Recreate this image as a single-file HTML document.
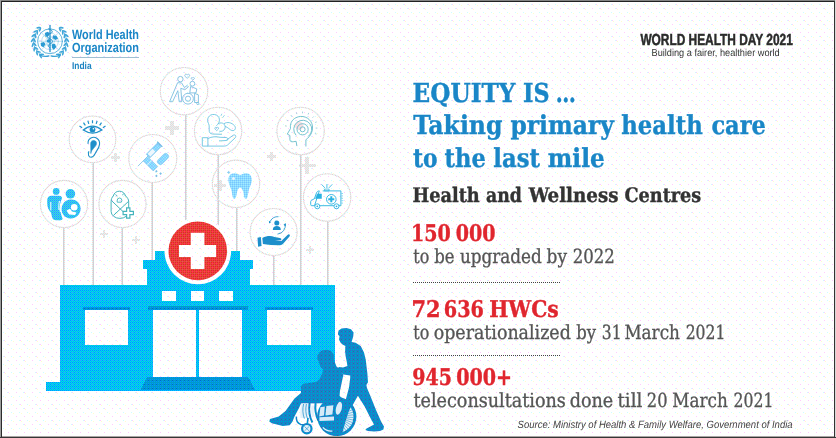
<!DOCTYPE html>
<html lang="en">
<head>
<meta charset="utf-8">
<title>World Health Day 2021 - Equity is taking primary health care to the last mile</title>
<style>
html,body{margin:0;padding:0;background:#fff;}
body{width:836px;height:438px;overflow:hidden;}
svg{display:block;}
.slab{font-family:"DejaVu Serif Condensed","DejaVu Serif","Liberation Serif",serif;}
.sans{font-family:"Liberation Sans","DejaVu Sans",sans-serif;}
text{text-rendering:geometricPrecision;}
.b{font-weight:bold;}
.i{font-style:italic;}
</style>
</head>
<body>
<svg width="836" height="438" viewBox="0 0 836 438">
<defs>
<pattern id="dither" x="8" y="4" width="16" height="16" patternUnits="userSpaceOnUse" shape-rendering="crispEdges">
<rect width="16" height="16" fill="#ffffff"/>
<rect x="3" y="0" width="1" height="1" fill="#ccffff"/><rect x="11" y="0" width="1" height="1" fill="#ccffff"/><rect x="12" y="0" width="1" height="1" fill="#ffccff"/>
<rect x="5" y="1" width="1" height="1" fill="#ffffcc"/><rect x="13" y="1" width="1" height="1" fill="#ffffcc"/>
<rect x="0" y="4" width="1" height="1" fill="#ffccff"/><rect x="8" y="4" width="1" height="1" fill="#ffccff"/><rect x="15" y="4" width="1" height="1" fill="#ccffff"/>
<rect x="1" y="5" width="1" height="1" fill="#ffffcc"/>
<rect x="3" y="8" width="1" height="1" fill="#ccffff"/><rect x="11" y="8" width="1" height="1" fill="#ccffff"/>
<rect x="5" y="9" width="1" height="1" fill="#ffffcc"/><rect x="13" y="9" width="1" height="1" fill="#ffffcc"/>
<rect x="0" y="12" width="1" height="1" fill="#ffccff"/><rect x="8" y="12" width="1" height="1" fill="#ffccff"/>
</pattern>

<pattern id="pL" x="0" y="0" width="2" height="2" patternUnits="userSpaceOnUse" shape-rendering="crispEdges">
<rect width="2" height="2" fill="#ccffff"/><rect x="0" y="0" width="1" height="1" fill="#ffcccc"/><rect x="1" y="1" width="1" height="1" fill="#ffcccc"/>
</pattern>
<pattern id="pT" x="0" y="0" width="2" height="2" patternUnits="userSpaceOnUse" shape-rendering="crispEdges">
<rect width="2" height="2" fill="#99ccff"/><rect x="0" y="0" width="1" height="1" fill="#66ccff"/><rect x="1" y="1" width="1" height="1" fill="#99ffff"/>
</pattern>
<pattern id="pF" x="0" y="0" width="2" height="2" patternUnits="userSpaceOnUse" shape-rendering="crispEdges">
<rect width="2" height="2" fill="#33ccff"/><rect x="0" y="0" width="1" height="1" fill="#3399ff"/><rect x="1" y="1" width="1" height="1" fill="#33cccc"/>
</pattern>
<pattern id="pB" x="0" y="0" width="4" height="4" patternUnits="userSpaceOnUse" shape-rendering="crispEdges">
<rect width="4" height="4" fill="#00ccff"/><rect x="0" y="0" width="1" height="1" fill="#3399ff"/><rect x="2" y="0" width="1" height="1" fill="#0099ff"/><rect x="0" y="2" width="1" height="1" fill="#0099ff"/><rect x="2" y="2" width="1" height="1" fill="#0099ff"/><rect x="1" y="1" width="1" height="1" fill="#00cccc"/><rect x="3" y="1" width="1" height="1" fill="#00cccc"/><rect x="1" y="3" width="1" height="1" fill="#00cccc"/><rect x="3" y="3" width="1" height="1" fill="#00cccc"/>
</pattern>
<pattern id="pS" x="0" y="0" width="4" height="4" patternUnits="userSpaceOnUse" shape-rendering="crispEdges">
<rect width="4" height="4" fill="#0099cc"/><rect x="0" y="0" width="1" height="1" fill="#3366cc"/><rect x="2" y="0" width="1" height="1" fill="#3366cc"/><rect x="0" y="2" width="1" height="1" fill="#3366cc"/><rect x="2" y="2" width="1" height="1" fill="#3366cc"/><rect x="1" y="3" width="1" height="1" fill="#336699"/>
</pattern>
<pattern id="pD" x="0" y="0" width="4" height="4" patternUnits="userSpaceOnUse" shape-rendering="crispEdges">
<rect width="4" height="4" fill="#0099cc"/><rect x="0" y="0" width="1" height="1" fill="#0066cc"/><rect x="0" y="1" width="1" height="1" fill="#0099ff"/><rect x="2" y="1" width="1" height="1" fill="#0099ff"/><rect x="0" y="3" width="1" height="1" fill="#0099ff"/><rect x="2" y="3" width="1" height="1" fill="#0099ff"/>
</pattern>
<pattern id="pR" x="0" y="0" width="4" height="4" patternUnits="userSpaceOnUse" shape-rendering="crispEdges">
<rect width="4" height="4" fill="#ff3333"/><rect x="1" y="0" width="1" height="1" fill="#cc3333"/><rect x="3" y="0" width="1" height="1" fill="#cc3333"/><rect x="1" y="2" width="1" height="1" fill="#cc3333"/><rect x="3" y="2" width="1" height="1" fill="#cc3333"/><rect x="0" y="1" width="1" height="1" fill="#cc6633"/><rect x="2" y="1" width="1" height="1" fill="#cc6666"/><rect x="0" y="3" width="1" height="1" fill="#ff3366"/><rect x="2" y="3" width="1" height="1" fill="#cc6633"/>
</pattern>
</defs>
<!-- background -->
<rect id="bg" x="0" y="0" width="836" height="438" fill="#ffffff"/>
<rect id="bgdots" x="0" y="0" width="836" height="438" fill="url(#dither)"/>


<!-- decorative plus marks -->
<g id="plusmarks" fill="url(#pL)" shape-rendering="crispEdges">
<path d="M170 121h4v5h5v4h-5v5h-4v-5h-5v-4h5z"/>
<path d="M114 153h3v3h3v3h-3v3h-3v-3h-3v-3h3z"/>
<path d="M270 152h3v3h3v3h-3v3h-3v-3h-3v-3h3z"/>
<path d="M305 157h4v7h7v3h-7v7h-4v-7h-6v-3h6z"/>
<path d="M218 180h4v4h4v3h-4v4h-4v-4h-4v-3h4z"/>
<path d="M103 230h2v3h3v2h-3v3h-2v-3h-3v-2h3z"/>
<path d="M135 236h2v3h3v2h-3v3h-2v-3h-3v-2h3z"/>
<path d="M309 246h2v3h3v2h-3v3h-2v-3h-3v-2h3z"/>
</g>
<!-- stems -->
<g id="stems" shape-rendering="crispEdges">
<rect x="63" y="228" width="1" height="57" fill="#d0d0d5"/><rect x="64" y="228" width="1" height="57" fill="url(#pL)"/>
<rect x="93" y="162" width="1" height="123" fill="#d0d0d5"/><rect x="92" y="162" width="1" height="123" fill="url(#pL)"/>
<rect x="122" y="228" width="1" height="57" fill="#d0d0d5"/><rect x="121" y="228" width="1" height="57" fill="url(#pL)"/>
<rect x="152" y="182" width="1" height="103" fill="#d0d0d5"/><rect x="151" y="182" width="1" height="103" fill="url(#pL)"/>
<rect x="185" y="115" width="1" height="145" fill="#d0d0d5"/><rect x="186" y="115" width="1" height="145" fill="url(#pL)"/>
<rect x="218" y="155" width="1" height="105" fill="#d0d0d5"/><rect x="217" y="155" width="1" height="105" fill="url(#pL)"/>
<rect x="236" y="207" width="1" height="53" fill="#d0d0d5"/><rect x="237" y="207" width="1" height="53" fill="url(#pL)"/>
<rect x="273" y="256" width="1" height="29" fill="#d0d0d5"/><rect x="274" y="256" width="1" height="29" fill="url(#pL)"/>
<rect x="300" y="155" width="1" height="130" fill="#d0d0d5"/><rect x="301" y="155" width="1" height="130" fill="url(#pL)"/>
<rect x="327" y="221" width="1" height="64" fill="#d0d0d5"/><rect x="328" y="221" width="1" height="64" fill="url(#pL)"/>
</g>

<!-- icon circles -->
<g id="circles" fill="none">
<circle cx="64" cy="204" r="23.6" stroke="url(#pL)" stroke-width="1.1"/><circle cx="64" cy="204" r="23.6" stroke="#c9a9b4" stroke-width="0.8" stroke-dasharray="1 2.4" opacity="0.45"/>
<circle cx="122.5" cy="204" r="23.6" stroke="url(#pL)" stroke-width="1.1"/><circle cx="122.5" cy="204" r="23.6" stroke="#c9a9b4" stroke-width="0.8" stroke-dasharray="1 2.4" opacity="0.45"/>
<circle cx="92.5" cy="139.3" r="23.3" stroke="url(#pL)" stroke-width="1.1"/><circle cx="92.5" cy="139.3" r="23.3" stroke="#c9a9b4" stroke-width="0.8" stroke-dasharray="1 2.4" opacity="0.45"/>
<circle cx="152.8" cy="158.5" r="24" stroke="url(#pL)" stroke-width="1.1"/><circle cx="152.8" cy="158.5" r="24" stroke="#c9a9b4" stroke-width="0.8" stroke-dasharray="1 2.4" opacity="0.45"/>
<circle cx="184" cy="91.2" r="23.7" stroke="url(#pL)" stroke-width="1.1"/><circle cx="184" cy="91.2" r="23.7" stroke="#c9a9b4" stroke-width="0.8" stroke-dasharray="1 2.4" opacity="0.45"/>
<circle cx="218.1" cy="131" r="23.7" stroke="url(#pL)" stroke-width="1.1"/><circle cx="218.1" cy="131" r="23.7" stroke="#c9a9b4" stroke-width="0.8" stroke-dasharray="1 2.4" opacity="0.45"/>
<circle cx="236" cy="183.8" r="23.7" stroke="url(#pL)" stroke-width="1.1"/><circle cx="236" cy="183.8" r="23.7" stroke="#c9a9b4" stroke-width="0.8" stroke-dasharray="1 2.4" opacity="0.45"/>
<circle cx="273.6" cy="232" r="23.5" stroke="url(#pL)" stroke-width="1.1"/><circle cx="273.6" cy="232" r="23.5" stroke="#c9a9b4" stroke-width="0.8" stroke-dasharray="1 2.4" opacity="0.45"/>
<circle cx="300.6" cy="131" r="23.7" stroke="url(#pL)" stroke-width="1.1"/><circle cx="300.6" cy="131" r="23.7" stroke="#c9a9b4" stroke-width="0.8" stroke-dasharray="1 2.4" opacity="0.45"/>
<circle cx="327.1" cy="197.5" r="23.7" stroke="url(#pL)" stroke-width="1.1"/><circle cx="327.1" cy="197.5" r="23.7" stroke="#c9a9b4" stroke-width="0.8" stroke-dasharray="1 2.4" opacity="0.45"/>
</g>
<!-- icons -->
<g id="icon-family" transform="translate(64 204)" fill="url(#pF)">
<circle cx="-7.8" cy="-12.6" r="3.4"/>
<path d="M-12.5 -8.2 H-5 Q-1.6 -8.2 -1.8 -4.5 L-3.5 2 Q-4.5 6 -3 10 L-1.5 14.5 Q-1.2 16.2 -3.5 16.2 H-8 Q-11 16.2 -12 13 L-13 8.5 Q-16.8 5 -16.8 -1 V-3.5 Q-16.8 -8.2 -12.5 -8.2 Z"/>
<circle cx="6.4" cy="-10.2" r="4.8"/>
<path d="M6.5 -4.6 C13 -5 16.8 0 16.6 5 C16.4 10.5 12 14.6 6.5 14.4 C1 14.2 -2.6 10 -2.4 5 C-2.2 0 1 -4.3 6.5 -4.6 Z"/>
<circle cx="10.2" cy="3.2" r="3.3" fill="#fff"/>
<path d="M2.5 6.5 L6 4.8 L8 7.5 L12.5 8.5 L11 11 L5 10.5 Z" fill="#fff"/>
<path d="M-1.2 -6 C-3 -2 -4.6 3 -3.6 8" fill="none" stroke="#fff" stroke-width="1.2"/>
<path d="M-13.2 -2 V6.5 M-4.6 -3 C-5.2 0 -5.4 3 -5 6" fill="none" stroke="#fff" stroke-width="1"/>
</g>
<g id="icon-baby" transform="translate(122.5 204)" fill="none" stroke="#45b4bd" stroke-width="1" stroke-linecap="round">
<path d="M-9.2 -8.2 A6.4 6.6 0 0 1 3 -8.2"/>
<path d="M-9.2 -8.2 C-10.8 -6.4 -11.4 -4.6 -11.4 -2.4 V7.4 A8.8 7 0 0 0 6.2 7.4 V-2.4 C6.2 -4.6 4.8 -6.6 3 -8.2"/>
<path d="M-11 -3.4 L1.6 8.6 M6 -2.6 L-8.8 11.2"/>
<path d="M-5.4 -3.4 A2.4 2.6 0 0 1 -0.6 -3.4 L-1.2 -1.8 H-4.8 Z" stroke-width="0.9"/>
<path d="M-6.8 -9.2 l1.4 1 M0 -9.2 l1.2 -1" stroke-width="0.9"/>
<path d="M4.1 3.9 h3.3 v3.4 h3.5 v3.3 h-3.5 v3.5 h-3.3 v-3.5 h-3.5 v-3.3 h3.5 z" fill="#fff" stroke-width="1.2"/>
</g>
<g id="icon-eye-ear" transform="translate(92.5 139.3)" fill="none" stroke="#1f8fc9" stroke-width="1">
<path d="M-9.2 -9.3 Q0 -17 9.4 -9.3 Q0 -3.2 -9.2 -9.3 Z" stroke-width="1.3"/>
<circle cx="0" cy="-9.7" r="2.9" fill="#1f8fc9" stroke="none"/>
<circle cx="0.9" cy="-10.6" r="0.8" fill="#fff" stroke="none"/>
<path d="M-13 -13.4 l2.6 1.8 M-9 -16.6 l1.8 2.6 M-4.6 -18.4 l0.9 3 M0 -19 v3 M4.6 -18.4 l-0.9 3 M9 -16.6 l-1.8 2.6 M13 -13.4 l-2.6 1.8" stroke-width="1.2"/>
<path d="M-4.4 4.6 C-5 -1 0.6 -3.6 4.6 -0.8 C8.8 2.2 7 7.8 4.2 11.6 C2 14.6 1.8 17.8 -1.4 18 C-4.2 18 -4.6 14.6 -3.6 12" stroke-width="1.1"/>
<path d="M-1.8 4.6 C-2 1.6 1 0.2 3 1.8 C5 3.6 3.6 6.6 1.6 8.4 C0 10 -1.8 12.4 -1.6 14.2 Z" fill="#1f8fc9" stroke-width="0.6"/>
</g>
<g id="icon-vaccine" transform="translate(152.9 158.7)">
<g transform="translate(0.8 -8.3) rotate(-45)">
<rect x="-7.8" y="-2.5" width="15.6" height="5" fill="url(#pT)" stroke="#6fb9e6" stroke-width="0.7"/>
<rect x="-6.6" y="-2" width="7" height="4" fill="#eef7fd"/>
<path d="M8.6 -3.6 v7.2 M7.8 0 h0.8" stroke="#6fb9e6" stroke-width="1.3" fill="none"/>
<path d="M-7.8 0 h-14.5" stroke="#7dbfe6" stroke-width="0.8" fill="none"/>
</g>
<g transform="translate(-2.4 5.1) rotate(45)">
<rect x="-7" y="-3.1" width="14" height="6.2" fill="url(#pT)" stroke="#6fb9e6" stroke-width="0.5"/>
<path d="M-1.5 -3.1 v6.2" stroke="#e8f4fc" stroke-width="0.9"/>
</g>
<g transform="translate(10.1 0.3) rotate(-45)">
<rect x="-6.6" y="-2.9" width="13.2" height="5.8" rx="2.7" fill="url(#pT)" stroke="#6fb9e6" stroke-width="0.5"/>
</g>
<path d="M3.5 11.2 l1.3 1.3 -1.3 1.3 -1.3 -1.3z M3.5 15.9 l1.3 1.3 -1.3 1.3 -1.3 -1.3z M7.7 13.6 l1.3 1.3 -1.3 1.3 -1.3 -1.3z" fill="#7dbfe6"/>
</g>
<g id="icon-elderly" transform="translate(184.2 91.3)" fill="none" stroke="#7dbde0" stroke-width="0.9" stroke-linejoin="round">
<circle cx="-3.8" cy="-12.2" r="2.7"/>
<path d="M-6.6 -8.6 L-14.6 10.4 L-11.6 10.4 L-6.4 -0.6 L-5 10.4 L-2.4 10.4 L-3.4 -3 L0.6 -1.6 L4.2 -4.4 L3 -5.8 L0.2 -3.8 L-2.6 -8.4 Z"/>
<circle cx="3.8" cy="7.4" r="5.4"/>
<circle cx="3.8" cy="7.4" r="2.6"/>
<circle cx="8.2" cy="-7.6" r="2.4"/>
<path d="M6.4 -4.8 L5.6 1.6 H11.8 L12.6 -2.4 Z"/>
<path d="M10.4 2 V11.2 H14.2 V3.6 Z"/>
<circle cx="13.6" cy="12.2" r="1.1"/>
<path d="M3 -16.4 c-1.2 -1.6 -3.4 0 -2 1.6 l2 1.8 2 -1.8 c1.4 -1.6 -0.8 -3.2 -2 -1.6z M8.6 -13.4 c-0.8 -1 -2.2 0 -1.4 1 l1.4 1.2 1.4 -1.2 c0.8 -1 -0.6 -2 -1.4 -1z" stroke-width="0.8"/>
</g>
<g id="icon-motherbaby" transform="translate(218.1 131.1)" fill="none" stroke="#6cc4e0" stroke-width="0.9" stroke-linejoin="round" stroke-linecap="round">
<path d="M-1.4 -5.6 C2.8 -9 2.4 -15.6 -3.6 -16.6 C-9.4 -17.4 -12 -11.4 -9.6 -7.6 C-8.4 -5.6 -9.2 -3 -8.8 0.4 C-8.6 2.4 -6.4 3.2 -3 3 L3.4 3.2"/>
<path d="M0.4 -7.6 C4.4 -9.8 8.2 -6.2 6.8 -2.6 C6 -0.4 3.4 0.8 1.6 0.2"/>
<path d="M6.2 -7.6 C9 -9.6 13.6 -8.6 16.4 -5.4 C18.4 -3 16.8 0.2 13.8 -0.6 C11.6 -1.2 10 -3.8 7.4 -4.6"/>
<path d="M-1.4 -3.4 c-1 -1.2 -2.6 0 -1.6 1.4 l1.6 1.6 1.6 -1.6 c1 -1.4 -0.6 -2.6 -1.6 -1.4z" stroke-width="0.8"/>
<path d="M4.6 -13.6 l1.6 -2 M3 -15.6 l0.6 -1.4" stroke-width="0.7"/>
<path d="M-15.4 6.6 H-10.2 V15 H-15.4 Z"/>
<path d="M-10.2 7.4 C-6 5.2 -2 5.4 2 6.2 L8 6.4 C10.4 6.6 10.4 9.2 8 9.4 L1.4 9.8 M8.6 8.8 L15 4.2 C17.2 3 18.6 5 17 6.8 L9.6 13.8 C8.4 14.8 7 15 5 15 H-10.2"/>
</g>
<g id="icon-tooth" transform="translate(236.1 183.9)">
<path d="M-7.6 -6 C-6.8 -10.6 -2 -12 2.6 -9.4 C3.6 -8.8 4.6 -8.8 5.6 -9.4 C10.2 -12 15 -10.2 15.6 -5.4 C16.2 -0.8 13.6 2.6 12.6 6.6 C11.8 10 11.8 14.8 9.8 14.8 C7.6 14.8 8 10.4 7 7.4 C6.2 5 5 3.6 4 3.6 C3 3.6 1.8 5 1.2 7.4 C0.2 10.4 0.6 14.8 -1.8 14.8 C-3.8 14.8 -3.8 10 -4.6 6.6 C-5.6 2.6 -8.2 -1 -7.6 -6 Z" fill="url(#pT)"/>
<circle cx="-2.6" cy="-5.4" r="1.5" fill="#e8f5fc"/>
<path d="M-7.4 -13 v3 M-8.9 -11.5 h3" stroke="#85caf2" stroke-width="0.9" fill="none"/>
</g>
<g id="icon-hand" transform="translate(272.9 231.7)" fill="#1d8fcb">
<circle cx="3.9" cy="-8.8" r="2.5"/>
<path d="M-0.1 -1.8 C-0.1 -4.8 1.6 -5.8 3.9 -5.8 C6.2 -5.8 7.9 -4.8 7.9 -1.8 Z"/>
<path d="M-2.6 -10.6 A8.6 8.6 0 0 1 5.6 -15" fill="none" stroke="#1d8fcb" stroke-width="0.8"/>
<path d="M12.2 -8 A8.6 8.6 0 0 1 4.6 2.4" fill="none" stroke="#1d8fcb" stroke-width="0.8"/>
<path d="M-3.8 -8.2 l-0.2 -2.8 2.4 1.4z M12.8 -5.2 l0.2 -3.2 -2.4 1.4z"/>
<path d="M-15.4 6 L-12 5.4 L-11.4 14.4 L-14.8 15 Z"/>
<path d="M-10.6 6.2 C-6 4 -2 4 1.6 5.2 L7 6.2 C9 6.6 9 8.4 7 8.6 L2 8.8 L8.4 9.4 L14.6 3.2 C16.2 1.8 17.8 3.2 16.6 4.8 L10.2 12 C9 13.2 7.6 13.6 5.6 13.6 L-2 13.4 C-5 13.2 -7.6 12.6 -10 12.4 Z"/>
</g>
<g id="icon-head" transform="translate(300.5 131.1)" fill="none" stroke="#66bccb" stroke-width="0.9" stroke-linejoin="round">
<circle cx="2.1" cy="-1.8" r="4.2" fill="#f7dfe2" stroke="none" transform="translate(-3.4 -3.6)"/>
<path d="M5.4 15.4 V8.6 C10.6 5 13.4 -1.6 11.4 -7.4 C9 -14 1.4 -16.4 -4.6 -13.4 C-9 -11.2 -10.6 -7 -10 -2.6 L-13.2 3 L-10.6 4.4 L-10.6 8.6 C-10.6 10.4 -9 11 -7 10.6 L-4.4 10.2 L-3.6 15"/>
<circle cx="2.1" cy="-1.8" r="2.5"/>
<circle cx="2.1" cy="-1.8" r="5.6"/>
<path d="M-4.4 4.2 A9 9 0 1 1 7.6 5.4" />
<path d="M-8.6 -14.6 l-1 -1.4 M-3.6 -17 l-0.5 -1.6 M2 -17.8 v-1.7 M7.6 -16.6 l0.6 -1.6 M12 -13.4 l1.2 -1.2 M14.6 -8.6 l1.6 -0.6 M15.2 -3 h1.7 M14.4 2.4 l1.6 0.6 M-12.4 -10.2 l-1.4 -0.8 M-13.8 -5 l-1.6 -0.2" stroke-width="0.8" stroke="#8ec6d4"/>
</g>
<g id="icon-ambulance" transform="translate(326.9 197.5)" fill="none" stroke="#2ab2e2" stroke-width="0.9" stroke-linejoin="round">
<path d="M-4.2 -6.6 H14 V8.2 H11.8 M7 8.2 H-7.4 M-12.4 8.2 H-15.2 C-16 8.2 -16.2 7.6 -16.2 6.8 V4.2 C-16.2 3.2 -15.6 2.6 -14.6 2.2 L-12.6 1.4 L-10.4 -4.6 C-9.8 -6 -9 -6.6 -7.6 -6.6 Z"/>
<path d="M-9.6 -3.6 H-5.4 V1 H-11.4 Z" fill="#2ab2e2" stroke-width="0.5"/>
<circle cx="-9.6" cy="8.8" r="2.5"/>
<circle cx="9.6" cy="8.8" r="2.5"/>
<circle cx="-9.6" cy="8.8" r="0.9" fill="#2ab2e2" stroke="none"/>
<circle cx="9.6" cy="8.8" r="0.9" fill="#2ab2e2" stroke="none"/>
<circle cx="4.4" cy="1.8" r="4.8"/>
<path d="M3.4 -1.2 h2 v2 h2 v2 h-2 v2 h-2 v-2 h-2 v-2 h2 z" fill="#2ab2e2" stroke="none"/>
<path d="M-2.4 -8.4 h4.6 v1.8 h-4.6z" stroke-width="0.7"/>
<path d="M0 -9.4 v-4 M-2 -9.6 l-3.4 -3.6 M2 -9.6 l3.4 -3.6" stroke-width="0.8"/>
<path d="M14.6 -4 h1.4 M14.6 -1.6 h1.4 M14.6 0.8 h1.4 M14.6 3.2 h1.4 M14.6 5.6 h1.4" stroke-width="0.6"/>
</g>
<!-- building -->
<g id="building" shape-rendering="crispEdges">
<path fill="url(#pB)" d="M155.3 250.8H239.8V259.8H253V268.7H249.6V284.6H335V390.9H46.3V381.8H60.2V284.6H146.9V268.7H143.2V259.8H155.3Z"/>
<!-- lintel shadows -->
<rect x="82.6" y="306.7" width="47.6" height="3.2" fill="url(#pD)"/>
<rect x="264.8" y="306.7" width="48" height="3.2" fill="url(#pD)"/>
<rect x="147.5" y="305.8" width="100.1" height="3.7" fill="url(#pD)"/>
<!-- windows -->
<rect x="85.1" y="309.9" width="43.2" height="34.6" fill="url(#dither)"/>
<rect x="267.1" y="309.9" width="43.4" height="34.6" fill="url(#dither)"/>
<rect x="162.4" y="291.3" width="13.5" height="9.6" fill="url(#dither)"/>
<rect x="191" y="291.3" width="13.2" height="9.6" fill="url(#dither)"/>
<rect x="219.4" y="291.3" width="13.4" height="9.6" fill="url(#dither)"/>
<!-- doors -->
<rect x="153.2" y="309.5" width="43" height="67.4" fill="url(#dither)"/>
<rect x="199" y="309.5" width="43.2" height="67.4" fill="url(#dither)"/>
<!-- step -->
<path fill="url(#pD)" d="M147.1 376.9H248.2L254.6 389.5H140.8Z"/>
</g>
<!-- red cross sign -->
<circle cx="197.8" cy="250.9" r="33.3" fill="url(#dither)"/>
<circle cx="197.8" cy="250.9" r="29.3" fill="url(#pR)"/>
<path fill="url(#dither)" d="M190.8 232.7H204.4V245H216.1V256.9H204.4V269H190.8V256.9H179V245H190.8Z"/>


<!-- wheelchair user and helper silhouette -->
<defs>
<clipPath id="crescent"><path d="M350.6 407.2 A16.7 16.7 0 0 1 342.6 432.2 L345.4 422 L348.4 412.6 Z"/></clipPath>
</defs>
<g id="people" fill="url(#pS)" stroke="none">
<!-- helper -->
<path d="M338 333.2 L338.6 330.6 L341.5 328.6 L346.5 327.9 L351 329.3 L353.6 332.4 L353.2 336.5 L352.2 340 L351.6 341.9 L355.6 342.8 L360.7 346 L364 352.5 L365.8 360 L366.6 367 L367.4 373.5 L368 382.2 L366.4 385 L367 388 L370.3 395.8 L375.8 409.5 L381.2 421.8 L384 426.6 L383.4 429.6 L380 431.1 L374.4 431.6 L368 431.1 L365.4 430 L366.5 428.4 L369 427.3 L374 424.4 L370.3 417.7 L364.8 406.8 L357.9 395.8 L353 404.5 L348.8 412 L345.4 422 L341.4 432 L330 432 L336 425 L339.3 415 L342.5 403 L345.6 400.2 L349 387.6 L350.2 378 L350.2 375.4 L343.4 374.4 L339.4 370.8 L337.4 368.6 L339 367 L343 367.4 L347.4 366 L346.8 362 L345.6 356 L345.1 351.8 L345.3 347 L345.4 346 L342.5 344.5 L340.5 342.5 L339 339.5 L339.5 336.2 L338 334.6 Z"/>
<!-- seated person with chair -->
<path d="M318.6 362 L320.5 366.7 L323 369.5 L322.3 373.5 L319.4 379.2 L316 382.1 L303.4 383.8 L301.1 386 L300.9 393 L294.5 398.5 L285.5 410.9 L278.7 416.4 L270 419 L269.3 421.4 L271.8 423.3 L282.8 425.9 L289.7 425.3 L292.4 421.8 L294.5 416.4 L299 408 L301 403.4 L344.2 403 L344.2 401 L339.6 395.8 L340 390.7 L341.7 382.7 L343.4 374.7 L340 369.4 L336.5 366.6 L334 360 Z"/>
<ellipse cx="325.6" cy="357.6" rx="8.4" ry="7.3"/>
<path d="M319 353 L322 350.6 L327 349.8 L331 351 L334 355 Z"/>
<!-- big wheel -->
<circle cx="336.8" cy="416.6" r="19.6"/>
</g>
<g id="wheel-details">
<path d="M350.6 407.2 A16.7 16.7 0 0 1 342.6 432.2 L345.4 422 L348.4 412.6 Z" fill="#eaf4fb"/>
<path d="M338.8 413.1L345.3 401.9 M339.3 413.5L347.5 403.4 M339.8 413.9L349.4 405.2 M340.2 414.4L351.1 407.3 M340.5 415.0L352.3 409.7 M340.7 415.6L353.2 412.2 M340.8 416.2L353.7 414.8 M340.8 416.8L353.8 417.5 M340.7 417.4L353.4 420.1 M340.5 418.0L352.7 422.7 M340.3 418.6L351.5 425.1 M339.9 419.1L350.0 427.3 M339.5 419.6L348.2 429.2 M339.0 420.0L346.1 430.9 M338.4 420.3L343.7 432.1 M337.8 420.5L341.2 433.0 M337.2 420.6L338.6 433.5 M336.6 420.6L335.9 433.6" stroke="#1089c9" stroke-width="0.55" fill="none" clip-path="url(#crescent)"/>
<ellipse cx="338.9" cy="408.3" rx="2.9" ry="6.6" transform="rotate(14 338.9 408.3)" fill="#dcedf8"/>
<path d="M320.4 407.2 L324.8 406.4 L324 415.6 L319.2 416.4 Z M326.4 406 L333.4 405.2 L332.4 414.4 L325.4 415.4 Z" fill="#d6eaf7"/>
<path d="M319.4 417.2 L334 416.4 L334 420.4 L319.4 421 Z" fill="#d6eaf7"/>
<path d="M322.8 427.4 C325.6 430.4 329 431.4 332.4 431" stroke="#e6f2fa" stroke-width="1.2" fill="none"/>
<!-- front frame -->
<path d="M301.5 403.6 L309 403.6 C307.6 408 307.4 413 308.6 418 L300.4 418 C300 413 300.4 408 301.5 403.6 Z M311.6 405.4 L314.2 405.4 C313.4 409 313.6 413 314.6 416.4 L312 416.4 C311 413 311 409 311.6 405.4 Z" fill="#e3f0f9"/>
<path d="M303.6 404 C302.4 409 302.6 414 304.4 418.6 M306.4 404 C305.4 409 305.6 414 307.6 419" stroke="#1089c9" stroke-width="0.7" fill="none"/>
<path d="M309.6 403 C308.6 410 309.4 417 312.4 422.4 M315.6 403 C314.8 409 315.6 415 318.4 420.6" stroke="url(#pS)" stroke-width="2" fill="none"/>
<path d="M296.4 416.6 C296 420 297.4 423 300.6 424.4 L304 424.8" stroke="url(#pS)" stroke-width="1.5" fill="none"/>
<circle cx="306.8" cy="428.7" r="4.7" stroke="url(#pS)" stroke-width="2.2" fill="#e3f0f9"/>
<path d="M304.4 426.4 L309.2 431 M309.2 426.4 L304.4 431" stroke="#1089c9" stroke-width="0.6" fill="none"/>
<path d="M308 418 L307.2 424.4" stroke="url(#pS)" stroke-width="1.6" fill="none"/>
</g>
<!-- header right -->
<text class="sans b" x="640.4" y="45" font-size="16" fill="#2b2b2b" stroke="#2b2b2b" stroke-width="0.5" textLength="152.4" lengthAdjust="spacingAndGlyphs">WORLD HEALTH DAY 2021</text>
<text class="sans" x="651.5" y="55.9" font-size="10.2" fill="#333" textLength="128.2" lengthAdjust="spacingAndGlyphs">Building a fairer, healthier world</text>

<!-- title -->
<text id="title-1" class="slab b" y="101.9" font-size="26" fill="#1a86c7" stroke="#1a86c7" stroke-width="0.35"><tspan x="412.60" textLength="102.75" lengthAdjust="spacingAndGlyphs">EQUITY</tspan> <tspan x="523.10" textLength="26.50" lengthAdjust="spacingAndGlyphs">IS</tspan> <tspan x="555.65" textLength="20.10" lengthAdjust="spacingAndGlyphs">…</tspan></text>
<text id="title-2" class="slab b" y="134.4" font-size="26" fill="#1a86c7" stroke="#1a86c7" stroke-width="0.35"><tspan x="413.35" textLength="89.05" lengthAdjust="spacingAndGlyphs">Taking</tspan> <tspan x="510.40" textLength="103.40" lengthAdjust="spacingAndGlyphs">primary</tspan> <tspan x="621.25" textLength="81.45" lengthAdjust="spacingAndGlyphs">health</tspan> <tspan x="711.40" textLength="54.50" lengthAdjust="spacingAndGlyphs">care</tspan></text>
<text id="title-3" class="slab b" y="167.2" font-size="26" fill="#1a86c7" stroke="#1a86c7" stroke-width="0.35"><tspan x="413.00" textLength="24.60" lengthAdjust="spacingAndGlyphs">to</tspan> <tspan x="444.60" textLength="41.20" lengthAdjust="spacingAndGlyphs">the</tspan> <tspan x="493.35" textLength="46.50" lengthAdjust="spacingAndGlyphs">last</tspan> <tspan x="547.85" textLength="56.85" lengthAdjust="spacingAndGlyphs">mile</tspan></text>
<text id="subtitle" class="slab b" y="202.2" font-size="20" fill="#333333" stroke="#333333" stroke-width="0.35"><tspan x="412.45" textLength="67.25" lengthAdjust="spacingAndGlyphs">Health</tspan> <tspan x="485.95" textLength="35.85" lengthAdjust="spacingAndGlyphs">and</tspan> <tspan x="528.65" textLength="89.90" lengthAdjust="spacingAndGlyphs">Wellness</tspan> <tspan x="624.55" textLength="76.70" lengthAdjust="spacingAndGlyphs">Centres</tspan></text>
<text id="stat-1" class="slab b" y="241.2" font-size="23" fill="#e0262e" stroke="#e0262e" stroke-width="0.35"><tspan x="410.95" textLength="39.85" lengthAdjust="spacingAndGlyphs">150</tspan> <tspan x="455.80" textLength="39.80" lengthAdjust="spacingAndGlyphs">000</tspan></text>
<text id="stat-1-desc" class="slab" y="263.3" font-size="19.5" fill="#555555" stroke="#555555" stroke-width="0.3"><tspan x="413.30" textLength="16.00" lengthAdjust="spacingAndGlyphs">to</tspan> <tspan x="434.20" textLength="20.30" lengthAdjust="spacingAndGlyphs">be</tspan> <tspan x="459.90" textLength="81.90" lengthAdjust="spacingAndGlyphs">upgraded</tspan> <tspan x="546.60" textLength="20.40" lengthAdjust="spacingAndGlyphs">by</tspan> <tspan x="572.75" textLength="42.10" lengthAdjust="spacingAndGlyphs">2022</tspan></text>
<line x1="413" y1="282.5" x2="560" y2="282.5" stroke="#444" stroke-width="1" stroke-dasharray="1 1"/>
<text id="stat-2" class="slab b" y="316.6" font-size="23" fill="#e0262e" stroke="#e0262e" stroke-width="0.35"><tspan x="411.45" textLength="29.05" lengthAdjust="spacingAndGlyphs">72</tspan> <tspan x="443.85" textLength="40.05" lengthAdjust="spacingAndGlyphs">636</tspan> <tspan x="489.20" textLength="69.50" lengthAdjust="spacingAndGlyphs">HWCs</tspan></text>
<text id="stat-2-desc" class="slab" y="338.8" font-size="19.5" fill="#555555" stroke="#555555" stroke-width="0.3"><tspan x="413.30" textLength="16.00" lengthAdjust="spacingAndGlyphs">to</tspan> <tspan x="433.70" textLength="137.10" lengthAdjust="spacingAndGlyphs">operationalized</tspan> <tspan x="576.20" textLength="19.80" lengthAdjust="spacingAndGlyphs">by</tspan> <tspan x="601.75" textLength="19.80" lengthAdjust="spacingAndGlyphs">31</tspan> <tspan x="624.40" textLength="55.50" lengthAdjust="spacingAndGlyphs">March</tspan> <tspan x="685.70" textLength="39.65" lengthAdjust="spacingAndGlyphs">2021</tspan></text>
<line x1="413" y1="355.5" x2="560" y2="355.5" stroke="#444" stroke-width="1" stroke-dasharray="1 1"/>
<text id="stat-3" class="slab b" y="384.6" font-size="23" fill="#e0262e" stroke="#e0262e" stroke-width="0.35"><tspan x="412.20" textLength="39.70" lengthAdjust="spacingAndGlyphs">945</tspan> <tspan x="456.20" textLength="55.90" lengthAdjust="spacingAndGlyphs">000+</tspan></text>
<text id="stat-3-desc" class="slab" y="406.7" font-size="19.5" fill="#555555" stroke="#555555" stroke-width="0.3"><tspan x="413.50" textLength="152.40" lengthAdjust="spacingAndGlyphs">teleconsultations</tspan> <tspan x="569.70" textLength="43.50" lengthAdjust="spacingAndGlyphs">done</tspan> <tspan x="617.50" textLength="24.80" lengthAdjust="spacingAndGlyphs">till</tspan> <tspan x="646.85" textLength="20.70" lengthAdjust="spacingAndGlyphs">20</tspan> <tspan x="672.30" textLength="55.50" lengthAdjust="spacingAndGlyphs">March</tspan> <tspan x="733.50" textLength="39.85" lengthAdjust="spacingAndGlyphs">2021</tspan></text>

<text class="sans i" x="517.6" y="428.3" font-size="10.5" fill="#444" textLength="275" lengthAdjust="spacingAndGlyphs">Source: Ministry of Health &amp; Family Welfare, Government of India</text>


<!-- WHO emblem -->
<g id="who-emblem" transform="translate(50 41.3)" fill="none" stroke="#3aa2d6" stroke-linecap="round">
<circle r="12.4" stroke-width="0.8"/>
<circle r="8.4" stroke-width="0.5" stroke="#7cc3e6"/>
<circle r="4.3" stroke-width="0.5" stroke="#7cc3e6"/>
<path d="M-12.4 0 H12.4 M-8.8 -8.8 L8.8 8.8 M8.8 -8.8 L-8.8 8.8" stroke-width="0.5" stroke="#7cc3e6"/>
<path d="M-5.2 -8.2 l2.8 -1.4 2 1.6 -1 2.8 -3 1z M3 -6 l3.6 0.8 1.4 2.6 -2.6 1.4 -2.8 -2z M-9.4 1.8 l3.4 -1.2 1.6 2.4 -2.2 3 -2.4 -1.2z M2 3 l3 -0.6 1.2 3.2 -2.4 3.2 -2 -2.6z M-3.2 -1.4 l2.2 -0.8 1.4 1.6 -1.2 2 -2.4 -0.4z" fill="#2a9ad3" stroke="none"/>
<path d="M0 -15.8 V10.4" stroke-width="1.3" stroke="#2492cd"/>
<path d="M-1.4 -12.4 C3.2 -11.2 3.2 -8.6 0 -7.6 C-3.4 -6.4 -3.4 -3.4 0 -2.4 C3.4 -1.2 3.2 1.6 0 2.6 C-2.6 3.6 -2.4 5.6 0 6.4" stroke-width="1" stroke="#2492cd"/>
<g fill="#3fa6d9" stroke="none">
<ellipse cx="9.4" cy="15.0" rx="2.4" ry="0.85" transform="rotate(-62 9.4 15.0)"/>
<ellipse cx="8.2" cy="13.1" rx="2.4" ry="0.85" transform="rotate(-2 8.2 13.1)"/>
<ellipse cx="13.0" cy="12.0" rx="2.4" ry="0.85" transform="rotate(-77 13.0 12.0)"/>
<ellipse cx="11.3" cy="10.4" rx="2.4" ry="0.85" transform="rotate(-17 11.3 10.4)"/>
<ellipse cx="15.8" cy="8.1" rx="2.4" ry="0.85" transform="rotate(-93 15.8 8.1)"/>
<ellipse cx="13.7" cy="7.0" rx="2.4" ry="0.85" transform="rotate(-33 13.7 7.0)"/>
<ellipse cx="17.3" cy="3.6" rx="2.4" ry="0.85" transform="rotate(-108 17.3 3.6)"/>
<ellipse cx="15.1" cy="3.1" rx="2.4" ry="0.85" transform="rotate(-48 15.1 3.1)"/>
<ellipse cx="17.7" cy="-1.1" rx="2.4" ry="0.85" transform="rotate(-124 17.7 -1.1)"/>
<ellipse cx="15.4" cy="-1.0" rx="2.4" ry="0.85" transform="rotate(-64 15.4 -1.0)"/>
<ellipse cx="16.7" cy="-5.8" rx="2.4" ry="0.85" transform="rotate(-139 16.7 -5.8)"/>
<ellipse cx="14.5" cy="-5.1" rx="2.4" ry="0.85" transform="rotate(-79 14.5 -5.1)"/>
<ellipse cx="14.6" cy="-10.0" rx="2.4" ry="0.85" transform="rotate(-155 14.6 -10.0)"/>
<ellipse cx="12.7" cy="-8.7" rx="2.4" ry="0.85" transform="rotate(-95 12.7 -8.7)"/>
<ellipse cx="11.4" cy="-13.6" rx="2.4" ry="0.85" transform="rotate(-170 11.4 -13.6)"/>
<ellipse cx="9.9" cy="-11.8" rx="2.4" ry="0.85" transform="rotate(-110 9.9 -11.8)"/>
<ellipse cx="-9.4" cy="15.0" rx="2.4" ry="0.85" transform="rotate(242 -9.4 15.0)"/>
<ellipse cx="-8.2" cy="13.1" rx="2.4" ry="0.85" transform="rotate(182 -8.2 13.1)"/>
<ellipse cx="-13.0" cy="12.0" rx="2.4" ry="0.85" transform="rotate(257 -13.0 12.0)"/>
<ellipse cx="-11.3" cy="10.4" rx="2.4" ry="0.85" transform="rotate(197 -11.3 10.4)"/>
<ellipse cx="-15.8" cy="8.1" rx="2.4" ry="0.85" transform="rotate(273 -15.8 8.1)"/>
<ellipse cx="-13.7" cy="7.0" rx="2.4" ry="0.85" transform="rotate(213 -13.7 7.0)"/>
<ellipse cx="-17.3" cy="3.6" rx="2.4" ry="0.85" transform="rotate(288 -17.3 3.6)"/>
<ellipse cx="-15.1" cy="3.1" rx="2.4" ry="0.85" transform="rotate(228 -15.1 3.1)"/>
<ellipse cx="-17.7" cy="-1.1" rx="2.4" ry="0.85" transform="rotate(304 -17.7 -1.1)"/>
<ellipse cx="-15.4" cy="-1.0" rx="2.4" ry="0.85" transform="rotate(244 -15.4 -1.0)"/>
<ellipse cx="-16.7" cy="-5.8" rx="2.4" ry="0.85" transform="rotate(319 -16.7 -5.8)"/>
<ellipse cx="-14.5" cy="-5.1" rx="2.4" ry="0.85" transform="rotate(259 -14.5 -5.1)"/>
<ellipse cx="-14.6" cy="-10.0" rx="2.4" ry="0.85" transform="rotate(335 -14.6 -10.0)"/>
<ellipse cx="-12.7" cy="-8.7" rx="2.4" ry="0.85" transform="rotate(275 -12.7 -8.7)"/>
<ellipse cx="-11.4" cy="-13.6" rx="2.4" ry="0.85" transform="rotate(350 -11.4 -13.6)"/>
<ellipse cx="-9.9" cy="-11.8" rx="2.4" ry="0.85" transform="rotate(290 -9.9 -11.8)"/>
</g>
<path d="M-8.6 13.9 C-13.6 10.8 -16.4 5.6 -16.4 0 C-16.4 -4.8 -14.4 -9.4 -10.6 -12.5 M8.6 13.9 C13.6 10.8 16.4 5.6 16.4 0 C16.4 -4.8 14.4 -9.4 10.6 -12.5" stroke-width="0.7"/>
<path d="M-10.6 13.6 C-7 15.2 -3.6 15.4 -1 14.6 M10.6 13.6 C7 15.2 3.6 15.4 1 14.6" stroke-width="1.1"/>
</g>
<!-- WHO logo text -->
<text class="sans b" x="72" y="38.8" font-size="13.4" fill="#1a86c7" textLength="67" lengthAdjust="spacingAndGlyphs">World Health</text>
<text class="sans b" x="72" y="52.2" font-size="13.4" fill="#1a86c7" textLength="67" lengthAdjust="spacingAndGlyphs">Organization</text>
<line x1="72" y1="57.5" x2="139" y2="57.5" stroke="#9fc0d2" stroke-width="1"/>
<text class="sans b" x="72" y="68.5" font-size="10" fill="#1b84c0" textLength="19.6" lengthAdjust="spacingAndGlyphs">India</text>

<!-- border -->
<g id="border" shape-rendering="crispEdges">
<rect x="0" y="0" width="836" height="1" fill="#858585"/>
<rect x="0" y="0" width="1" height="438" fill="#9c9c9c"/>
<rect x="1" y="1" width="834" height="1" fill="#222222"/>
<rect x="1" y="1" width="1" height="437" fill="#2c2c2c"/>
<rect x="834" y="1" width="1" height="437" fill="#333333"/>
<rect x="835" y="0" width="1" height="438" fill="#d8d8d8"/>
<rect x="2" y="436" width="832" height="1" fill="#aaa4a4"/>
<rect x="0" y="437" width="836" height="1" fill="#363636"/>
</g>
</svg>
</body>
</html>
